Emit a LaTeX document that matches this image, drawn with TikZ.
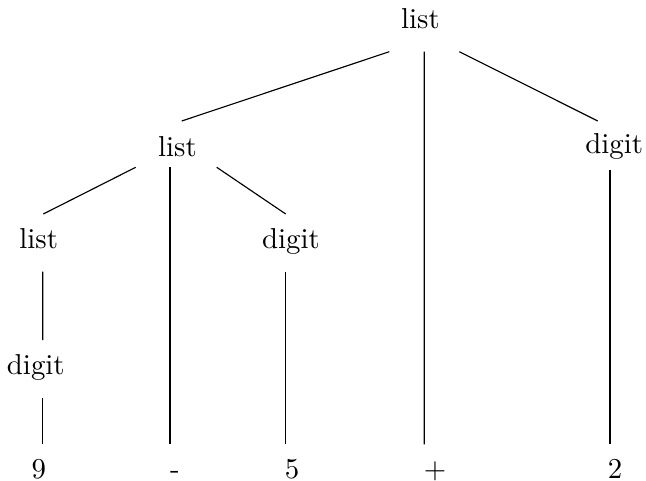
\documentclass[tikz,border=0pt]{standalone}
\begin{document}
\begin{tikzpicture}[x=0.347pt,y=-0.347pt,
  lbl/.style={anchor=base,inner sep=0pt},
  edge/.style={draw=black,line width=0.4pt}]
\useasboundingbox (0,0) rectangle (646,481);
% nodes
\node[lbl] (r)  at (420.5,28.3) {list};
\node[lbl] (lm) at (177.5,156.3) {list};
\node[lbl] (dr) at (614.2,153.5) {digit};
\node[lbl] (ll) at (38.7,248.5) {list};
\node[lbl] (dm) at (291,248.5) {digit};
\node[lbl] (dl) at (35.8,374.5) {digit};
\node[lbl] (n9) at (38.8,478) {9};
\node[lbl] (mi) at (175,478) {-};
\node[lbl] (n5) at (292,478) {5};
\node[lbl] (pl) at (435,478) {+};
\node[lbl] (n2) at (615,478) {2};
% edges
\draw[edge] ([shift={(-31.2,23.4)}]r.base) -- ([shift={(4.2,-35.3)}]lm.base);
\draw[edge] ([shift={(3.8,23.4)}]r.base) -- ([shift={(-10.7,-33.7)}]pl.base);
\draw[edge] ([shift={(38.8,23.4)}]r.base) -- ([shift={(-16.5,-32.5)}]dr.base);
\draw[edge] ([shift={(-41.8,11)}]lm.base) -- ([shift={(4.6,-34.5)}]ll.base);
\draw[edge] ([shift={(-7.5,11)}]lm.base) -- ([shift={(-5,-33.7)}]mi.base);
\draw[edge] ([shift={(39.2,11)}]lm.base) -- ([shift={(-5.3,-34.5)}]dm.base);
\draw[edge] ([shift={(4,23.2)}]ll.base) -- ([shift={(6.9,-34.5)}]dl.base);
\draw[edge] ([shift={(6.9,23.8)}]dl.base) -- ([shift={(3.9,-33.7)}]n9.base);
\draw[edge] ([shift={(-5.3,23.2)}]dm.base) -- ([shift={(-6.3,-33.7)}]n5.base);
\draw[edge] ([shift={(-4.2,16.5)}]dr.base) -- ([shift={(-5,-33.7)}]n2.base);
\end{tikzpicture}
\end{document}
